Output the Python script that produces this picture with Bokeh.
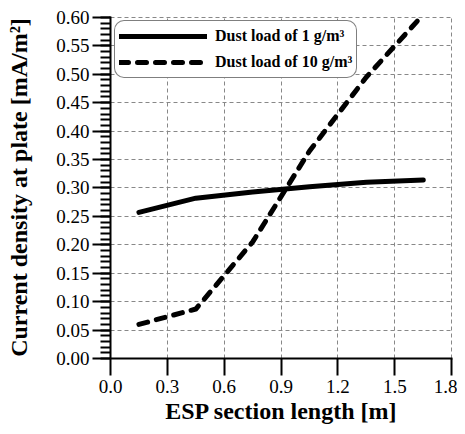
from bokeh.plotting import figure
from bokeh.models import FixedTicker, Range1d, PrintfTickFormatter, Legend, LegendItem
from bokeh.embed import file_html
from bokeh.resources import INLINE

# data
x_len = [0.15, 0.45, 0.75, 1.05, 1.35, 1.65]
j_1g = [0.257, 0.282, 0.293, 0.302, 0.310, 0.314]
j_10g = [0.060, 0.087, 0.205, 0.365, 0.495, 0.605]
x_ticks = [0.0, 0.3, 0.6, 0.9, 1.2, 1.5, 1.8]
y_ticks = [0.0, 0.05, 0.10, 0.15, 0.20, 0.25, 0.30, 0.35, 0.40, 0.45, 0.50, 0.55, 0.60]
y_minor = [round(i * 0.01, 2) for i in range(61)]
labels = ["Dust load of 1 g/m³", "Dust load of 10 g/m³"]

FONT = "'Liberation Serif'"

p = figure(width=457, height=426, output_backend="svg", toolbar_location=None,
           x_range=Range1d(0, 1.804), y_range=Range1d(0, 0.6015),
           min_border_left=110, min_border_top=16, min_border_right=5, min_border_bottom=60)
p.outline_line_color = None
p.background_fill_color = "white"

r1 = p.line(x_len, j_1g, line_color="black", line_width=5, line_cap="round", line_join="round")
r2 = p.line(x_len, j_10g, line_color="black", line_width=5, line_cap="round", line_join="round",
            line_dash="9 9")

# axes
xa = p.xaxis[0]
xa.ticker = FixedTicker(ticks=x_ticks, minor_ticks=[])
xa.formatter = PrintfTickFormatter(format="%.1f")
xa.axis_label = "ESP section length [m]"
ya = p.yaxis[0]
ya.ticker = FixedTicker(ticks=y_ticks, minor_ticks=y_minor)
ya.formatter = PrintfTickFormatter(format="%.2f")
ya.axis_label = "Current density at plate [mA/m²]"

for ax in (xa, ya):
    ax.axis_line_width = 2
    ax.axis_line_color = "black"
    ax.major_tick_line_width = 2
    ax.major_tick_line_color = "black"
    ax.major_tick_in = 0
    ax.minor_tick_in = 0
    ax.major_label_text_font = FONT
    ax.major_label_text_font_size = "19px"
    ax.major_label_text_color = "black"
    ax.axis_label_text_font = FONT
    ax.axis_label_text_font_size = "24px"
    ax.axis_label_text_font_style = "bold"
    ax.axis_label_text_color = "black"

xa.major_tick_out = 17
xa.minor_tick_out = 0
xa.major_label_standoff = 4
xa.axis_label_standoff = 2
ya.major_tick_out = 18
ya.minor_tick_out = 10
ya.minor_tick_line_width = 2
ya.minor_tick_line_color = "black"
ya.major_label_standoff = 3
ya.axis_label_standoff = 21

for g in (p.xgrid[0], p.ygrid[0]):
    g.grid_line_color = "#888888"
    g.grid_line_dash = "4 3"
    g.grid_line_width = 1

legend = Legend(items=[LegendItem(label=labels[0], renderers=[r1]),
                       LegendItem(label=labels[1], renderers=[r2])],
                location="top_left", margin=4, padding=4, spacing=4,
                glyph_width=88, glyph_height=22, label_standoff=8,
                label_text_font=FONT, label_text_font_size="16px", label_text_font_style="bold",
                label_text_color="black", border_line_color="black", border_line_width=1,
                background_fill_color="white", background_fill_alpha=1.0)
if "border_radius" in Legend.properties():
    legend.border_radius = 10
p.add_layout(legend)

open("out.html", "w").write(file_html(p, INLINE))
